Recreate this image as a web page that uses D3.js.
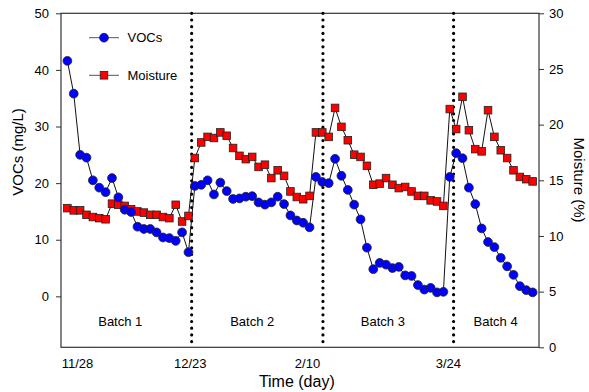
<!DOCTYPE html>
<html>
<head>
<meta charset="utf-8">
<script src="https://cdn.jsdelivr.net/npm/d3@7"></script>
<style>
	body { margin: 0; background: #fff; }
	svg { display: block; font-family: "Liberation Sans", Arial, sans-serif; }
	.tick line { stroke: #333; }
	.tick text { fill: #000; font-size: 13px; }
</style>
</head>
<body>
<div id="chart"></div>
<script>
// VOCs (mg/L), one value per sample, left axis
const vocs = [
	41.6, 35.8, 25.0, 24.5, 20.5, 19.2, 18.4, 20.9, 17.5, 15.3,
	14.9, 12.3, 11.9, 11.9, 11.3, 10.4, 10.3, 9.8, 11.3, 7.8,
	19.5, 19.7, 20.5, 18.0, 20.1, 18.6, 17.2, 17.3, 17.6, 17.7,
	16.6, 16.2, 16.6, 17.6, 16.3, 14.3, 13.4, 13.0, 12.2, 21.1,
	20.2, 20.0, 24.3, 21.3, 18.8, 16.2, 13.6, 8.6, 4.8, 5.9,
	5.6, 5.0, 5.2, 3.7, 3.6, 2.0, 1.2, 1.5, 0.7, 0.8,
	21.1, 25.3, 24.4, 19.2, 16.3, 12.0, 9.6, 8.7, 6.8, 5.3,
	3.8, 1.8, 1.1, 0.7
];

// Moisture (%), right axis
const moisture = [
	12.5, 12.3, 12.3, 11.9, 11.7, 11.6, 11.5, 12.9, 12.8, 12.7,
	12.4, 12.2, 12.1, 11.9, 11.9, 11.7, 11.6, 12.8, 11.3, 11.8,
	17.0, 18.4, 18.9, 18.8, 19.3, 19.0, 17.9, 17.2, 16.9, 17.1,
	16.2, 16.4, 15.2, 15.9, 15.4, 14.0, 13.5, 13.3, 13.6, 19.3,
	19.3, 18.9, 21.5, 19.8, 18.6, 17.3, 17.1, 16.3, 14.6, 14.7,
	15.2, 14.6, 14.3, 14.4, 14.0, 13.6, 13.6, 13.2, 13.1, 12.7,
	21.4, 19.6, 22.5, 19.5, 17.8, 17.6, 21.3, 18.9, 17.7, 17.0,
	15.9, 15.3, 15.1, 14.9
];

const dateLabels = ['11/28', '12/23', '2/10', '3/24'];
const datePos = [1.5, 19.2, 37.6, 59.7];

const batchNames = ['Batch 1', 'Batch 2', 'Batch 3', 'Batch 4'];
const batchPos = [8.3, 29.0, 49.5, 67.2];
const batchBounds = [19.5, 40.1, 60.6];

const vocTicks = [0, 10, 20, 30, 40, 50];
const moistureTicks = [0, 5, 10, 15, 20, 25, 30];

const width = 589;
const height = 392;
const margin = { top: 13.3, right: 50, bottom: 44.7, left: 61 };
const plotW = width - margin.left - margin.right;
const plotH = height - margin.top - margin.bottom;

const svg = d3.select('#chart')
	.append('svg')
	.attr('width', width)
	.attr('height', height);

const g = svg.append('g')
	.attr('transform', `translate(${margin.left},${margin.top})`);

const x = d3.scaleLinear().domain([-1, 74]).range([0, plotW]);
const yL = d3.scaleLinear().domain([-9, 50]).range([plotH, 0]);
const yR = d3.scaleLinear().domain([0, 30]).range([plotH, 0]);

// axes
g.append('g')
	.call(d3.axisLeft(yL).tickValues(vocTicks).tickSize(5).tickSizeOuter(0).tickPadding(7))
	.call((a) => a.select('.domain').remove());

g.append('g')
	.attr('transform', `translate(${plotW},0)`)
	.call(d3.axisRight(yR).tickValues(moistureTicks).tickSize(5).tickSizeOuter(0).tickPadding(5))
	.call((a) => a.select('.domain').remove());

g.append('g')
	.attr('transform', `translate(0,${plotH})`)
	.call(
		d3.axisBottom(x)
			.tickValues(datePos)
			.tickFormat((d, i) => dateLabels[i])
			.tickSize(0)
			.tickPadding(11)
	)
	.call((a) => a.select('.domain').remove());

// frame
g.append('rect')
	.attr('width', plotW)
	.attr('height', plotH)
	.attr('fill', 'none')
	.attr('stroke', '#333')
	.attr('stroke-width', 1.2);

// batch separators
g.selectAll('.sep')
	.data(batchBounds)
	.enter()
	.append('line')
	.attr('class', 'sep')
	.attr('x1', (d) => x(d))
	.attr('x2', (d) => x(d))
	.attr('y1', 0)
	.attr('y2', plotH)
	.attr('stroke', '#000')
	.attr('stroke-width', 3.2)
	.attr('stroke-linecap', 'round')
	.attr('stroke-dasharray', '0 6.7');

g.selectAll('.batch')
	.data(batchNames)
	.enter()
	.append('text')
	.attr('class', 'batch')
	.attr('x', (d, i) => x(batchPos[i]))
	.attr('y', yL(-5.3))
	.attr('text-anchor', 'middle')
	.attr('font-size', 13)
	.text((d) => d);

// series lines
const vocLine = d3.line().x((d, i) => x(i)).y((d) => yL(d));
const moistLine = d3.line().x((d, i) => x(i)).y((d) => yR(d));

g.append('path')
	.attr('d', moistLine(moisture))
	.attr('fill', 'none')
	.attr('stroke', '#111')
	.attr('stroke-width', 1);

g.append('path')
	.attr('d', vocLine(vocs))
	.attr('fill', 'none')
	.attr('stroke', '#111')
	.attr('stroke-width', 1);

g.selectAll('.sq')
	.data(moisture)
	.enter()
	.append('rect')
	.attr('class', 'sq')
	.attr('x', (d, i) => x(i) - 3.8)
	.attr('y', (d) => yR(d) - 3.8)
	.attr('width', 7.6)
	.attr('height', 7.6)
	.attr('fill', '#ff0000')
	.attr('stroke', '#222')
	.attr('stroke-width', 0.8);

g.selectAll('.dot')
	.data(vocs)
	.enter()
	.append('circle')
	.attr('class', 'dot')
	.attr('cx', (d, i) => x(i))
	.attr('cy', (d) => yL(d))
	.attr('r', 4.4)
	.attr('fill', '#0000ff')
	.attr('stroke', '#222')
	.attr('stroke-width', 0.8);

// legend
const legend = svg.append('g');
const legendItems = [
	{ name: 'VOCs', y: 37.7, shape: 'circle' },
	{ name: 'Moisture', y: 75.3, shape: 'square' }
];
legendItems.forEach((item) => {
	legend.append('line')
		.attr('x1', 89).attr('x2', 119)
		.attr('y1', item.y).attr('y2', item.y)
		.attr('stroke', '#555')
		.attr('stroke-width', 1);
	if (item.shape === 'circle') {
		legend.append('circle')
			.attr('cx', 104).attr('cy', item.y).attr('r', 4.4)
			.attr('fill', '#0000ff').attr('stroke', '#222').attr('stroke-width', 0.8);
	} else {
		legend.append('rect')
			.attr('x', 100.2).attr('y', item.y - 3.8)
			.attr('width', 7.6).attr('height', 7.6)
			.attr('fill', '#ff0000').attr('stroke', '#222').attr('stroke-width', 0.8);
	}
	legend.append('text')
		.attr('x', 127.5)
		.attr('y', item.y)
		.attr('dy', '0.35em')
		.attr('font-size', 13)
		.text(item.name);
});

// axis titles
svg.append('text')
	.attr('x', margin.left + x(36))
	.attr('y', 387)
	.attr('text-anchor', 'middle')
	.attr('font-size', 16)
	.text('Time (day)');

svg.append('text')
	.attr('transform', 'translate(23,152) rotate(-90)')
	.attr('text-anchor', 'middle')
	.attr('font-size', 15)
	.text('VOCs (mg/L)');

svg.append('text')
	.attr('transform', 'translate(574,180) rotate(90)')
	.attr('text-anchor', 'middle')
	.attr('font-size', 15)
	.text('Moisture (%)');
</script>
</body>
</html>
